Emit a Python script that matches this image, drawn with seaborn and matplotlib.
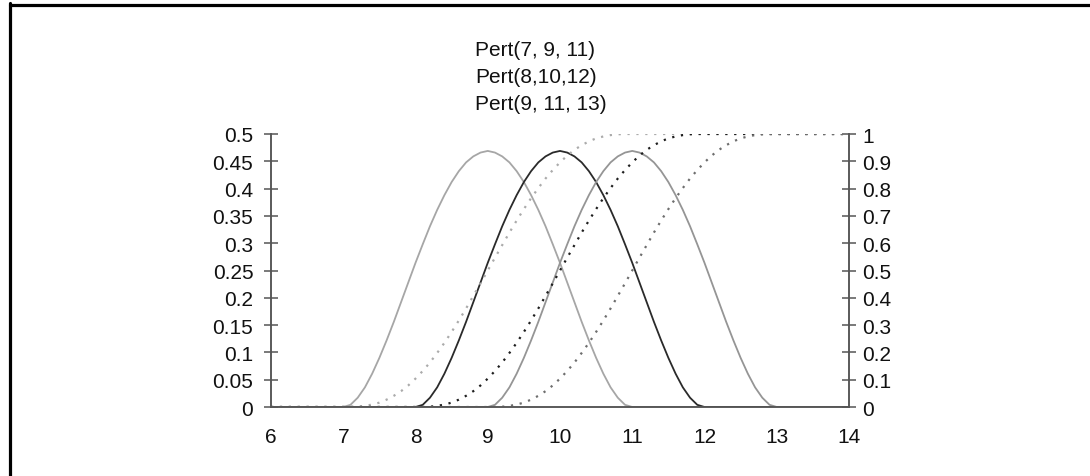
import matplotlib
matplotlib.use("Agg")
import matplotlib.pyplot as plt
from matplotlib.lines import Line2D
import seaborn as sns
import pandas as pd
import numpy as np

# ---- data (x from 6 to 14 in steps of 0.1) ----
x_values = np.round(np.arange(6.0, 14.0001, 0.1), 1)

# density hump of each Pert curve over its own 4-wide range (41 readings)
pdf_hump = [0, 0.004, 0.017, 0.036, 0.061, 0.090, 0.122, 0.156, 0.192, 0.228,
            0.264, 0.298, 0.331, 0.361, 0.388, 0.412, 0.432, 0.448, 0.459, 0.466,
            0.469, 0.466, 0.459, 0.448, 0.432, 0.412, 0.388, 0.361, 0.331, 0.298,
            0.264, 0.228, 0.192, 0.156, 0.122, 0.090, 0.061, 0.036, 0.017, 0.004, 0]
# cumulative rise of each Pert curve over its own 4-wide range (41 readings)
cdf_rise = [0, 0, 0.001, 0.004, 0.009, 0.016, 0.027, 0.041, 0.058, 0.079,
            0.104, 0.132, 0.163, 0.198, 0.235, 0.275, 0.317, 0.361, 0.407, 0.453,
            0.5, 0.547, 0.593, 0.639, 0.683, 0.725, 0.765, 0.802, 0.837, 0.868,
            0.896, 0.921, 0.942, 0.959, 0.973, 0.984, 0.991, 0.996, 0.999, 1, 1]

pdf_7_9_11 = [0] * 10 + pdf_hump + [0] * 30
pdf_8_10_12 = [0] * 20 + pdf_hump + [0] * 20
pdf_9_11_13 = [0] * 30 + pdf_hump + [0] * 10
cdf_7_9_11 = [0] * 10 + cdf_rise + [1] * 30
cdf_8_10_12 = [0] * 20 + cdf_rise + [1] * 20
cdf_9_11_13 = [0] * 30 + cdf_rise + [1] * 10

series_labels = ["Pert(7, 9, 11)", "Pert(8,10,12)", "Pert(9, 11, 13)"]
x_ticks = [6, 7, 8, 9, 10, 11, 12, 13, 14]
left_ticks = [0, 0.05, 0.1, 0.15, 0.2, 0.25, 0.3, 0.35, 0.4, 0.45, 0.5]
right_ticks = [0, 0.1, 0.2, 0.3, 0.4, 0.5, 0.6, 0.7, 0.8, 0.9, 1]

# ---- styling ----
sns.set_style("white")
plt.rcParams['font.family'] = ['Liberation Sans', 'DejaVu Sans']

pdf_colors = ["#a6a6a6", "#2a2a2a", "#959595"]
cdf_colors = ["#ababab", "#1e1e1e", "#6e6e6e"]
axis_color = "#555555"
FS = 15

fig = plt.figure(figsize=(10.9, 4.77), dpi=100)
ax = fig.add_axes([271 / 1090, 1 - 408 / 477, (849 - 271) / 1090, (408 - 135) / 477])
ax2 = ax.twinx()

df = pd.DataFrame({"x": x_values,
                   "p1": pdf_7_9_11, "p2": pdf_8_10_12, "p3": pdf_9_11_13,
                   "c1": cdf_7_9_11, "c2": cdf_8_10_12, "c3": cdf_9_11_13})

for col, c in zip(["c1", "c2", "c3"], cdf_colors):
    sns.lineplot(data=df, x="x", y=col, ax=ax2, color=c, lw=1.6,
                 linestyle=(0, (1, 3)), legend=False)
for col, c in zip(["p1", "p2", "p3"], pdf_colors):
    sns.lineplot(data=df, x="x", y=col, ax=ax, color=c, lw=1.3, legend=False)

for a in (ax, ax2):
    a.set_xlim(6, 14)
    a.set_xlabel("")
    a.set_ylabel("")
    a.spines["top"].set_visible(False)
    for s in ("left", "right", "bottom"):
        a.spines[s].set_color(axis_color)
        a.spines[s].set_linewidth(1.1)
    a.set_facecolor("none")

ax.set_ylim(0, 0.5)
ax2.set_ylim(0, 1)
ax.set_xticks(x_ticks)
ax.set_xticklabels([str(t) for t in x_ticks])
ax.set_yticks(left_ticks)
ax.set_yticklabels([f"{t:g}" for t in left_ticks])
ax2.set_yticks(right_ticks)
ax2.set_yticklabels([f"{t:g}" for t in right_ticks])

ax.tick_params(axis="x", direction="inout", length=7.5, width=1.1, color=axis_color,
               labelsize=FS, pad=11, labelcolor="#111111")
ax.tick_params(axis="y", direction="inout", length=9.5, width=1.1, color=axis_color,
               labelsize=FS, pad=8, labelcolor="#111111")
ax2.tick_params(axis="y", direction="inout", length=9.5, width=1.1, color=axis_color,
                labelsize=FS, pad=5, labelcolor="#111111")

# legend (text-only entries, as in the reference)
handles = [Line2D([], [], color="none") for _ in series_labels]
fig.legend(handles, series_labels, loc="upper left",
           bbox_to_anchor=(475 / 1090, 1 - 41 / 477), frameon=False,
           handlelength=0, handletextpad=0, fontsize=FS, labelspacing=0.39,
           borderpad=0, borderaxespad=0, labelcolor="#111111")

# frame lines (top and left) around the picture
fig.add_artist(Line2D([9.5 / 1090, 1], [1 - 5.5 / 477, 1 - 5.5 / 477],
                      transform=fig.transFigure, color="black", lw=2.3))
fig.add_artist(Line2D([9.5 / 1090, 9.5 / 1090], [1 - 4 / 477, 0],
                      transform=fig.transFigure, color="black", lw=2.3))

fig.savefig("out.png", dpi=100, facecolor="white")
